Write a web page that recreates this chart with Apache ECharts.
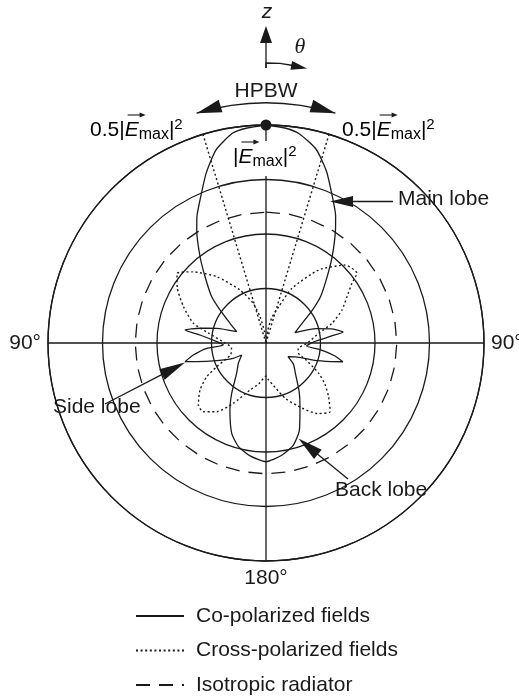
<!DOCTYPE html>
<html>
<head>
<meta charset="utf-8">
<script src="https://cdn.jsdelivr.net/npm/echarts@6/dist/echarts.min.js"></script>
<style>
  html, body { margin: 0; padding: 0; background: #fff; }
  #chart { width: 519px; height: 698px; }
</style>
</head>
<body>
<div id="chart"></div>
<script>
// angles are degrees clockwise from the z axis, radius is |E|^2 relative to |Emax|^2
var coAngles = [0, 5, 9, 14.5, 19.4, 24.8, 28.7, 31.5, 37.4, 42.6, 49.5, 54.3, 61.3, 70.4, 74, 78, 81.9, 84, 88.5,
  94.2, 97, 100.5, 103.7, 106, 110, 115, 121.9, 128, 137, 145.7, 151.9, 159.2, 165, 172, 180,
  188, 195, 200.8, 208.3, 214.3, 224, 233.8, 243.7, 245, 250.3, 254.9, 257, 260.6, 264.9, 267.3,
  271.5, 276.9, 279.1, 282.6, 286.6, 291.1, 298.7, 305.7, 310.5, 317.4, 322.6, 328.5, 331.3, 335.2,
  340.6, 345.5, 351, 355, 360];
var coValues = [1.0, 0.99, 0.972, 0.918, 0.835, 0.73, 0.665, 0.61, 0.5, 0.415, 0.33, 0.265, 0.19, 0.141, 0.24, 0.31, 0.357, 0.3, 0.22,
  0.187, 0.25, 0.32, 0.363, 0.31, 0.23, 0.15, 0.119, 0.16, 0.2, 0.27, 0.331, 0.43, 0.485, 0.52, 0.544,
  0.523, 0.491, 0.443, 0.349, 0.279, 0.194, 0.157, 0.124, 0.166, 0.24, 0.329, 0.381, 0.338, 0.273, 0.196,
  0.226, 0.305, 0.376, 0.31, 0.236, 0.144, 0.188, 0.26, 0.328, 0.413, 0.498, 0.608, 0.66, 0.722,
  0.826, 0.915, 0.975, 0.99, 1.0];

var crossAngles = [0, 8, 13, 19.3, 25.4, 35.8, 45.5, 52.5, 55.2, 60, 66.5, 73.4, 79.6, 90, 100, 107.5, 113, 119.9, 125,
  130.6, 136.9, 144, 151, 160.8, 168, 176, 180,
  190, 198.8, 208.5, 215.7, 222.4, 227.5, 234.5, 240.4, 244.3, 252, 262, 272, 280, 285.2, 293.7, 302,
  308, 314, 323.4, 333.9, 342, 347.2, 353, 360];
var crossValues = [0, 0.06, 0.12, 0.177, 0.278, 0.413, 0.51, 0.526, 0.48, 0.43, 0.38, 0.316, 0.246, 0.19, 0.15, 0.156, 0.2, 0.279, 0.33,
  0.378, 0.431, 0.4, 0.342, 0.269, 0.21, 0.17, 0.152,
  0.19, 0.228, 0.315, 0.388, 0.427, 0.421, 0.372, 0.313, 0.251, 0.17, 0.16, 0.2, 0.27, 0.345, 0.413, 0.48,
  0.518, 0.47, 0.379, 0.27, 0.193, 0.124, 0.05, 0];

// isotropic radiator: same level in every direction
var isoLevel = 0.6;
var isoAngles = [0, 10, 20, 30, 40, 50, 60, 70, 80, 90, 100, 110, 120, 130, 140, 150, 160, 170, 180,
  190, 200, 210, 220, 230, 240, 250, 260, 270, 280, 290, 300, 310, 320, 330, 340, 350, 360];

// half power beam width edges
var hpbwAngles = [343.2, 16.8];
var hpbwLength = 1.125;

var seriesNames = ['Co-polarized fields', 'Cross-polarized fields', 'Isotropic radiator'];

var CX = 266, CY = 343, R = 218;
var INK = '#1a1a1a';
var FONT = 'Liberation Sans';

function pairs(angles, values) {
  var out = [];
  for (var i = 0; i < angles.length; i++) {
    out.push([values[i], angles[i]]);
  }
  return out;
}

// straight arrow: shaft plus filled head ending at (x2, y2)
function arrow(x1, y1, x2, y2, len, hw) {
  var dx = x2 - x1, dy = y2 - y1;
  var d = Math.sqrt(dx * dx + dy * dy);
  dx /= d; dy /= d;
  return [
    { type: 'line', z: 20, shape: { x1: x1, y1: y1, x2: x2 - dx * len * 0.8, y2: y2 - dy * len * 0.8 },
      style: { stroke: INK, lineWidth: 1.3 } },
    head(x2, y2, dx, dy, len, hw)
  ];
}

function head(tx, ty, dx, dy, len, hw) {
  var d = Math.sqrt(dx * dx + dy * dy);
  dx /= d; dy /= d;
  var bx = tx - dx * len, by = ty - dy * len;
  return { type: 'polygon', z: 20,
    shape: { points: [[tx, ty], [bx - dy * hw, by + dx * hw], [bx + dy * hw, by - dx * hw]] },
    style: { fill: INK } };
}

// rich text for |E|^2 style labels
var rich = {
  n: { fontSize: 21, fontFamily: FONT, color: INK, lineHeight: 26 },
  e: { fontSize: 21, fontFamily: FONT, fontStyle: 'italic', color: INK, lineHeight: 26 },
  s: { fontSize: 16, fontFamily: FONT, color: INK, lineHeight: 12, verticalAlign: 'bottom' },
  p: { fontSize: 15, fontFamily: FONT, color: INK, lineHeight: 12, verticalAlign: 'top' }
};

var ctx = document.createElement('canvas').getContext('2d');
function textWidth(t, italic) {
  ctx.font = (italic ? 'italic ' : '') + '21px "' + FONT + '"';
  return ctx.measureText(t).width;
}

function emaxLabel(x, y, prefix) {
  var txt = '{n|' + prefix + '|}{e|E}{s|max}{n||}{p|2}';
  var ex = x + textWidth(prefix + '|');
  var ew = textWidth('E', true);
  var ay = y - 15;
  return [
    { type: 'text', z: 21, x: x, y: y,
      style: { text: txt, rich: rich, align: 'left', textAlign: 'left', verticalAlign: 'middle', textVerticalAlign: 'middle' } },
    { type: 'line', z: 21, shape: { x1: ex + 3, y1: ay, x2: ex + ew + 3, y2: ay }, style: { stroke: INK, lineWidth: 1.1 } },
    head(ex + ew + 7, ay, 1, 0, 6, 2.5)
  ];
}

function plain(t, x, y, align, extra) {
  var st = { text: t, fontSize: 21, fontFamily: FONT, fill: INK, align: align, textAlign: align,
    verticalAlign: 'middle', textVerticalAlign: 'middle' };
  for (var k in extra) st[k] = extra[k];
  return { type: 'text', z: 21, x: x, y: y, style: st };
}

var deg = Math.PI / 180;
var hpbwR = 240;
var th = 16.8 * deg;

var graphics = [];
// gap in the z axis behind the |Emax|^2 label
graphics.push({ type: 'rect', z: 15, shape: { x: 261, y: 141, width: 10, height: 35 }, style: { fill: '#fff' } });
graphics.push(plain('z', 267, 12, 'center', { fontStyle: 'italic' }));
graphics.push(plain('\u03b8', 300, 47, 'center', { fontStyle: 'italic', fontFamily: 'Liberation Serif', fontSize: 22 }));
graphics = graphics.concat(arrow(266, 68, 266, 26, 17, 6));
graphics.push({ type: 'polyline', z: 20, shape: { points: [[266, 68], [266, 63], [280, 63.3], [293, 65.5]] },
  style: { stroke: INK, lineWidth: 1.3, fill: null } });
graphics.push(head(307, 68.5, 1, 0.2, 16, 4.5));
graphics.push(plain('HPBW', 266, 91, 'center'));
graphics.push({ type: 'arc', z: 20,
  shape: { cx: CX, cy: CY, r: hpbwR, startAngle: -Math.PI / 2 - th, endAngle: -Math.PI / 2 + th, clockwise: true },
  style: { stroke: INK, lineWidth: 1.3, fill: null } });
graphics.push(head(CX - hpbwR * Math.sin(th), CY - hpbwR * Math.cos(th), -Math.cos(th), Math.sin(th), 25, 6.5));
graphics.push(head(CX + hpbwR * Math.sin(th), CY - hpbwR * Math.cos(th), Math.cos(th), Math.sin(th), 25, 6.5));
graphics = graphics.concat(emaxLabel(90, 130, '0.5'));
graphics = graphics.concat(emaxLabel(342, 130, '0.5'));
graphics = graphics.concat(emaxLabel(233, 157, ''));
graphics.push(plain('Main lobe', 398, 199, 'left'));
graphics = graphics.concat(arrow(393, 201.5, 330, 201.5, 23, 5.5));
graphics.push(plain('Side lobe', 53, 407, 'left'));
graphics = graphics.concat(arrow(105, 404, 185, 362.5, 26, 6));
graphics.push(plain('Back lobe', 335, 490, 'left'));
graphics = graphics.concat(arrow(348, 479, 298.5, 438.5, 25, 6));

var chart = echarts.init(document.getElementById('chart'));
chart.setOption({
  animation: false,
  backgroundColor: '#fff',
  color: [INK, INK, INK],
  polar: { center: [CX, CY], radius: R },
  angleAxis: {
    type: 'value', min: 0, max: 360, interval: 90, startAngle: 90, clockwise: true,
    axisLine: { lineStyle: { color: INK, width: 1.3 } },
    axisTick: { show: false },
    axisLabel: {
      margin: 7, fontSize: 21, fontFamily: FONT, color: INK,
      formatter: function (v) {
        if (v === 0 || v === 360) return '';
        return v === 180 ? '180°' : '90°';
      }
    },
    splitLine: { show: true, lineStyle: { color: INK, width: 1.3 } }
  },
  radiusAxis: {
    min: 0, max: 1, interval: 0.25,
    axisLine: { show: false }, axisTick: { show: false }, axisLabel: { show: false },
    splitLine: { show: true, lineStyle: { color: INK, width: 1.3 } }
  },
  legend: {
    orient: 'vertical', left: 130, top: 594, height: 160, itemWidth: 48, itemHeight: 14, itemGap: 0.5,
    selectedMode: false,
    data: seriesNames,
    itemStyle: { opacity: 0 },
    textStyle: { fontSize: 21, fontFamily: FONT, color: INK, lineHeight: 22, padding: [12, 0, 0, 7] }
  },
  graphic: graphics,
  series: [
    { name: seriesNames[0], type: 'line', coordinateSystem: 'polar', symbol: 'none', smooth: 0.2,
      data: pairs(coAngles, coValues), lineStyle: { color: INK, width: 1.3 }, z: 5 },
    { name: seriesNames[1], type: 'line', coordinateSystem: 'polar', symbol: 'none', smooth: 0.2,
      data: pairs(crossAngles, crossValues), lineStyle: { color: INK, width: 1.4, type: [2, 2.6] }, z: 4 },
    { name: seriesNames[2], type: 'line', coordinateSystem: 'polar', symbol: 'none',
      data: isoAngles.map(function (a) { return [isoLevel, a]; }),
      lineStyle: { color: INK, width: 1.3, type: [14, 9] }, z: 3 },
    { name: 'hpbw-left', type: 'line', coordinateSystem: 'polar', symbol: 'none', clip: false,
      data: [[0, hpbwAngles[0]], [hpbwLength, hpbwAngles[0]]], lineStyle: { color: INK, width: 1.4, type: [2, 2.6] } },
    { name: 'hpbw-right', type: 'line', coordinateSystem: 'polar', symbol: 'none', clip: false,
      data: [[0, hpbwAngles[1]], [hpbwLength, hpbwAngles[1]]], lineStyle: { color: INK, width: 1.4, type: [2, 2.6] } },
    { name: 'peak', type: 'scatter', coordinateSystem: 'polar', symbol: 'circle', symbolSize: 11,
      data: [[1, 0]], itemStyle: { color: INK, opacity: 1 }, z: 10 }
  ]
});
</script>
</body>
</html>
